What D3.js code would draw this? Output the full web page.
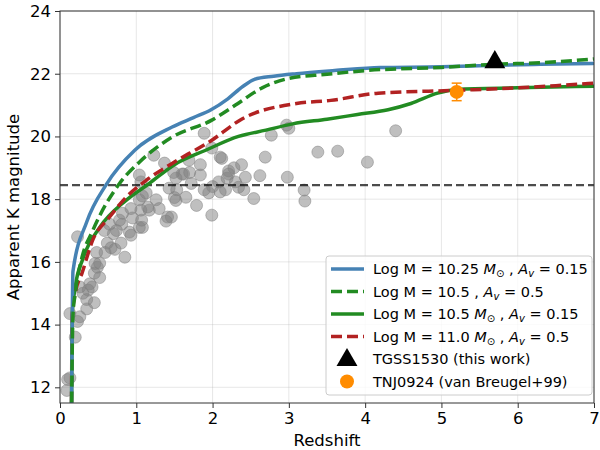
<!DOCTYPE html>
<html><head><meta charset="utf-8">
<script src="https://cdn.jsdelivr.net/npm/d3@7"></script>
<style>body{margin:0;background:#fff}svg{font-family:"DejaVu Sans",sans-serif}</style>
</head><body><svg id="c" width="600" height="450"></svg>
<script>
// ---- data ----
const xTicks = [0,1,2,3,4,5,6,7];
const yTicks = [12,14,16,18,20,22,24];
const threshold = 18.45;

const blueZ   = [0.15,0.17,0.35,0.61,0.98,1.47,1.75,1.98,2.2,2.4,2.55,2.8,3.1,3.6,4.2,5.0,5.7,6.3,7.0];
const blueM   = [11.0,15.7,17.27,18.48,19.56,20.3,20.6,20.85,21.2,21.6,21.82,21.92,22.0,22.1,22.2,22.22,22.27,22.3,22.33];
const gdashZ  = [0.15,0.17,0.2,0.28,0.43,0.78,1.04,1.47,1.99,2.3,2.65,3.0,3.5,4.0,5.0,5.7,6.3,7.0];
const gdashM  = [11.0,14.3,15.0,16.06,17.0,18.5,19.18,19.98,20.52,21.0,21.55,21.85,21.98,22.1,22.2,22.3,22.35,22.47];
const gsolZ   = [0.15,0.16,0.2,0.3,0.52,0.87,1.17,1.5,1.91,2.34,2.7,3.05,3.5,3.9,4.3,4.6,4.95,5.2,6.0,7.0];
const gsolM   = [11.0,14.3,15.2,16.1,17.1,17.97,18.5,19.1,19.56,20.0,20.2,20.4,20.55,20.7,20.85,21.05,21.38,21.5,21.55,21.6];
const redZ    = [0.15,0.16,0.2,0.29,0.43,0.65,0.87,1.13,1.47,1.99,2.38,3.1,3.55,4.17,5.2,6.0,6.5,7.0];
const redM    = [11.0,14.3,15.0,15.65,16.7,17.43,18.07,18.6,19.14,19.88,20.55,21.05,21.15,21.38,21.47,21.55,21.62,21.7];

const sampleZ = [0.23,0.1,0.09,0.13,0.2,0.13,0.23,0.26,0.35,0.35,0.45,0.37,0.39,0.45,0.52,0.49,0.46,0.26,0.59,0.62,0.72,0.8,0.85,0.93,0.58,0.81,1.04,1.04,1.06,1.13,1.04,0.93,1.06,1.17,1.26,1.07,1.08,0.82,0.78,0.74,0.91,0.67,0.48,0.52,1.43,1.39,1.46,1.53,1.5,1.6,1.49,1.37,1.89,1.23,1.69,1.84,2.1,2.21,2.19,1.62,1.7,1.52,1.84,2.08,1.89,2.1,1.08,1.52,1.65,1.79,1.41,1.99,2.77,1.99,2.69,2.12,2.28,2.38,2.21,2.43,2.62,2.34,2.41,2.17,2.54,2.97,3.0,2.98,3.38,3.64,4.03,4.4,3.2,3.21,1.15,1.3,0.95,0.65,0.7,1.95,2.0,1.72,0.3,0.42,2.3];
const sampleM = [16.8,12.25,11.9,12.3,13.6,14.35,14.1,14.25,14.5,14.8,14.7,15.1,15.3,15.64,15.5,15.83,15.95,15.2,16.3,16.6,16.4,16.6,16.15,16.85,17.0,17.2,17.1,18.77,18.55,18.2,17.98,17.7,17.65,17.65,17.98,17.33,17.1,17.55,17.33,17.0,16.95,16.45,16.3,15.96,18.35,17.3,17.43,18.3,18.05,18.8,18.85,19.15,20.1,19.4,19.24,19.1,19.34,18.9,18.67,18.8,18.85,18.67,18.77,18.55,18.3,18.23,18.1,17.96,18.06,17.8,17.43,17.49,20.04,19.63,19.34,19.3,19.0,19.1,18.8,18.7,18.75,18.38,18.3,18.3,18.02,20.36,20.26,18.7,19.5,19.53,19.18,20.18,18.29,17.94,17.75,17.7,17.4,17.2,16.9,18.2,18.4,18.5,15.0,15.2,18.55];

const tgssZ = [5.7], tgssM = [22.4];
const tnjZ = [5.2], tnjM = [21.42], tnjErr = [0.28];

// ---- layout ----
const svg = d3.select("#c");
const L = 60, R = 594, T = 11, B = 403;
const x = d3.scaleLinear().domain([0,7]).range([L,R]);
const y = d3.scaleLinear().domain([11.5,24]).range([B,T]);

svg.append("defs").append("clipPath").attr("id","clip")
  .append("rect").attr("x",L).attr("y",T).attr("width",R-L).attr("height",B-T);

// grid
const g = svg.append("g");
g.selectAll(".gx").data(xTicks).join("line")
  .attr("x1",d=>x(d)).attr("x2",d=>x(d)).attr("y1",T).attr("y2",B)
  .attr("stroke","#b0b0b0").attr("stroke-opacity",0.3).attr("stroke-width",1);
g.selectAll(".gy").data(yTicks).join("line")
  .attr("y1",d=>y(d)).attr("y2",d=>y(d)).attr("x1",L).attr("x2",R)
  .attr("stroke","#b0b0b0").attr("stroke-opacity",0.3).attr("stroke-width",1);

const plot = svg.append("g").attr("clip-path","url(#clip)");

// scatter
const pts = sampleZ.map((z,i)=>[z,sampleM[i]]);
plot.selectAll(".pt").data(pts).join("circle")
  .attr("cx",d=>x(d[0])).attr("cy",d=>y(d[1])).attr("r",6)
  .attr("fill","#808080").attr("fill-opacity",0.5)
  .attr("stroke","#808080").attr("stroke-opacity",0.5).attr("stroke-width",1);

// threshold
plot.append("line").attr("x1",L).attr("x2",R).attr("y1",y(threshold)).attr("y2",y(threshold))
  .attr("stroke","#000").attr("stroke-opacity",0.7).attr("stroke-width",2.2).attr("stroke-dasharray","8,4");

const line = d3.line().x(d=>x(d[0])).y(d=>y(d[1])).curve(d3.curveMonotoneX);
const series = [
  {z:blueZ,m:blueM,color:"#4682b4",dash:null},
  {z:gdashZ,m:gdashM,color:"#228b22",dash:"11,5"},
  {z:gsolZ,m:gsolM,color:"#228b22",dash:null},
  {z:redZ,m:redM,color:"#b22222",dash:"11,5"}
];
const order = [2,3,0,1];
order.forEach(i=>{
  const s = series[i];
  plot.append("path").datum(s.z.map((z,j)=>[z,s.m[j]]))
    .attr("d",line).attr("fill","none").attr("stroke",s.color).attr("stroke-width",3.5)
    .attr("stroke-dasharray",s.dash);
});

// TNJ0924 with error bar
tnjZ.forEach((z,i)=>{
  const cx=x(z), cy=y(tnjM[i]), y1=y(tnjM[i]+tnjErr[i]), y2=y(tnjM[i]-tnjErr[i]);
  plot.append("line").attr("x1",cx).attr("x2",cx).attr("y1",y1).attr("y2",y2).attr("stroke","#ff8c00").attr("stroke-width",1.5);
  [y1,y2].forEach(yy=>plot.append("line").attr("x1",cx-5).attr("x2",cx+5).attr("y1",yy).attr("y2",yy).attr("stroke","#ff8c00").attr("stroke-width",1.5));
  plot.append("circle").attr("cx",cx).attr("cy",cy).attr("r",7).attr("fill","#ff8c00");
});
// TGSS1530
const tri = d3.symbol().type(d3.symbolTriangle).size(190);
tgssZ.forEach((z,i)=>{
  plot.append("path").attr("d",tri).attr("transform",`translate(${x(z)},${y(tgssM[i])+1})`).attr("fill","#000");
});

// frame
svg.append("rect").attr("x",L).attr("y",T).attr("width",R-L).attr("height",B-T)
  .attr("fill","none").attr("stroke","#333").attr("stroke-width",1);

// axes
const xa = svg.append("g").attr("transform",`translate(0,${B})`)
  .call(d3.axisBottom(x).tickValues(xTicks).tickSize(5).tickPadding(4).tickFormat(d3.format("d")));
const ya = svg.append("g").attr("transform",`translate(${L},0)`)
  .call(d3.axisLeft(y).tickValues(yTicks).tickSize(5).tickPadding(4).tickFormat(d3.format("d")));
[xa,ya].forEach(a=>{
  a.select(".domain").remove();
  a.selectAll("line").attr("stroke","#333");
  a.selectAll("text").attr("font-size",16.5).attr("fill","#000").attr("font-family","DejaVu Sans");
});
svg.append("text").attr("x",(L+R)/2).attr("y",446).attr("text-anchor","middle")
  .attr("font-size",16.5).text("Redshift");
svg.append("text").attr("transform",`translate(19,${(T+B)/2}) rotate(-90)`).attr("text-anchor","middle")
  .attr("font-size",16.5).text("Apparent K magnitude");

// legend
const lg = svg.append("g");
lg.append("rect").attr("x",326).attr("y",256).attr("width",266).attr("height",139).attr("rx",3)
  .attr("fill","#fff").attr("fill-opacity",0.8).attr("stroke","#ccc");
const labels = [
  {n:"10.25 ",msun:true,av:"0.15",s:0},
  {n:"10.5 ",msun:false,av:"0.5",s:1},
  {n:"10.5 ",msun:true,av:"0.15",s:2},
  {n:"11.0 ",msun:true,av:"0.5",s:3}
];
const ly0 = 269, ldy = 22.5;
labels.forEach((l,i)=>{
  const yy = ly0+i*ldy;
  const s = series[l.s];
  lg.append("line").attr("x1",331).attr("x2",364).attr("y1",yy).attr("y2",yy)
    .attr("stroke",s.color).attr("stroke-width",3.5).attr("stroke-dasharray",s.dash);
  const t = lg.append("text").attr("x",373).attr("y",yy+5).attr("font-size",14.5);
  t.append("tspan").text("Log M = "+l.n);
  if(l.msun){
    t.append("tspan").attr("font-style","italic").text("M");
    t.append("tspan").attr("font-size",10).attr("dy",3).text("⊙");
    t.append("tspan").attr("dy",-3).text(" , ");
  } else {
    t.append("tspan").text(", ");
  }
  t.append("tspan").attr("font-style","italic").text("A");
  t.append("tspan").attr("font-style","italic").attr("font-size",10).attr("dy",3).text("v");
  t.append("tspan").attr("dy",-3).text(" = "+l.av);
});
const y5 = ly0+4*ldy, y6 = ly0+5*ldy;
lg.append("path").attr("d",tri).attr("transform",`translate(347,${y5+1})`).attr("fill","#000");
lg.append("text").attr("x",373).attr("y",y5+5).attr("font-size",14.5).text("TGSS1530 (this work)");
lg.append("circle").attr("cx",347).attr("cy",y6).attr("r",7).attr("fill","#ff8c00");
lg.append("text").attr("x",373).attr("y",y6+5).attr("font-size",14.5).text("TNJ0924 (van Breugel+99)");
</script></body></html>
